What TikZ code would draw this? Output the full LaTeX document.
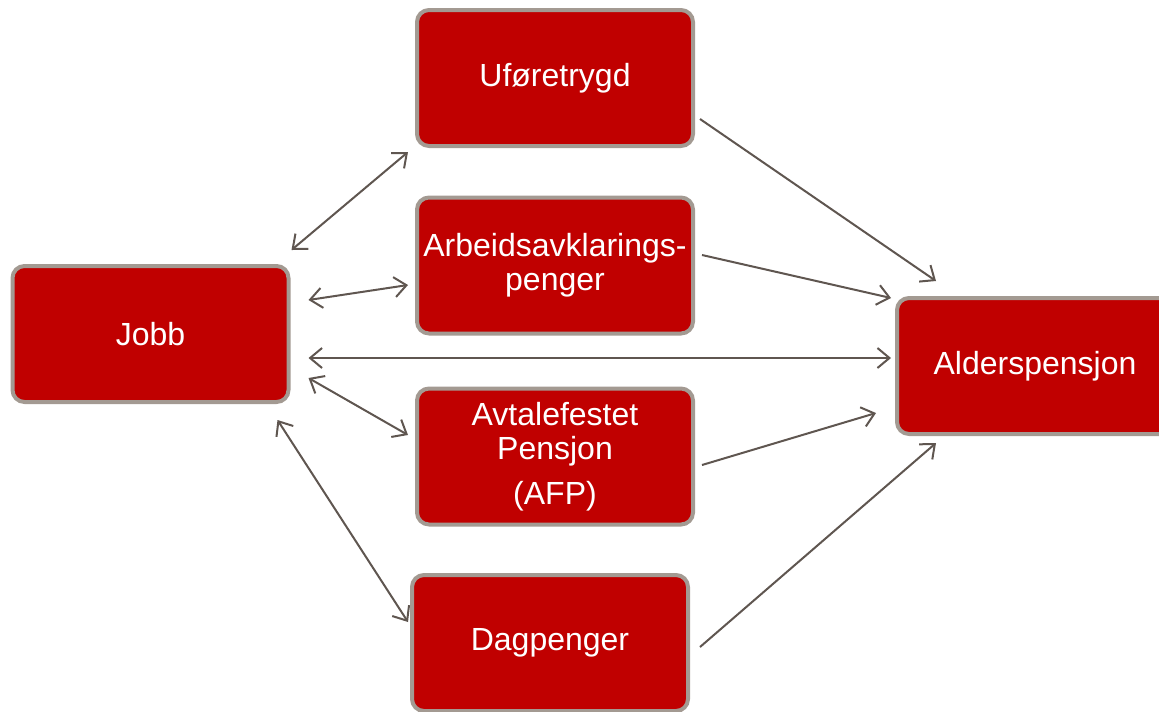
\documentclass[tikz,border=0pt]{standalone}
\usepackage{fontspec}
\setmainfont{Liberation Sans}
\usetikzlibrary{arrows.meta}
\definecolor{boxred}{HTML}{C00000}
\definecolor{boxline}{HTML}{A39A92}
\definecolor{arr}{HTML}{5F5650}
\begin{document}
\begin{tikzpicture}[x=0.75pt,y=-0.75pt,
    box/.style={draw=boxline,line width=3pt,fill=boxred,rounded corners=9pt,
      minimum width=207pt,minimum height=102pt,text=white,align=center,
      font=\fontsize{24}{25.5}\selectfont,inner sep=0pt},
    link/.style={draw=arr,line width=1.5pt,{Straight Barb[length=9pt,width=15pt]}-{Straight Barb[length=9pt,width=15pt]}},
    oneway/.style={draw=arr,line width=1.5pt,-{Straight Barb[length=9pt,width=15pt]}}]
  \clip (0,0) rectangle (1159,711);
  \useasboundingbox (0,0) rectangle (1159,711);
  % boxes
  \node[box] (j) at (150.5,334) {Jobb};
  \node[box] (u) at (555,78) {Uføretrygd};
  \node[box] (a) at (555,265.5) {Arbeidsavklarings-\\penger};
  \node[box] (f) at (555,456.5) {Avtalefestet\\Pensjon\\[8pt](AFP)};
  \node[box] (d) at (550,643) {Dagpenger};
  \node[box] (p) at (1035,366) {Alderspensjon};
  % to and from Jobb
  \draw[link] ([shift={(1,-14)}]j.north east) -- ([shift={(-7,4)}]u.south west);
  \draw[link] ([shift={(18,-34)}]j.east) -- ([shift={(-7,19.5)}]a.west);
  \draw[link] ([shift={(18,24)}]j.east) -- ([shift={(-4,-8)}]p.west);
  \draw[link] ([shift={(18,44)}]j.east) -- ([shift={(-7,-21.5)}]f.west);
  \draw[link] ([shift={(-13,16)}]j.south east) -- ([shift={(-2,-21)}]d.west);
  % into Alderspensjon
  \draw[oneway] ([shift={(5,41)}]u.east) -- ([shift={(41,-15)}]p.north west);
  \draw[oneway] ([shift={(7,-10.5)}]a.east) -- ([shift={(-4,2)}]p.north west);
  \draw[oneway] ([shift={(7,8.5)}]f.east) -- ([shift={(-19,47)}]p.west);
  \draw[oneway] ([shift={(10,4)}]d.east) -- ([shift={(41,7)}]p.south west);
\end{tikzpicture}
\end{document}
